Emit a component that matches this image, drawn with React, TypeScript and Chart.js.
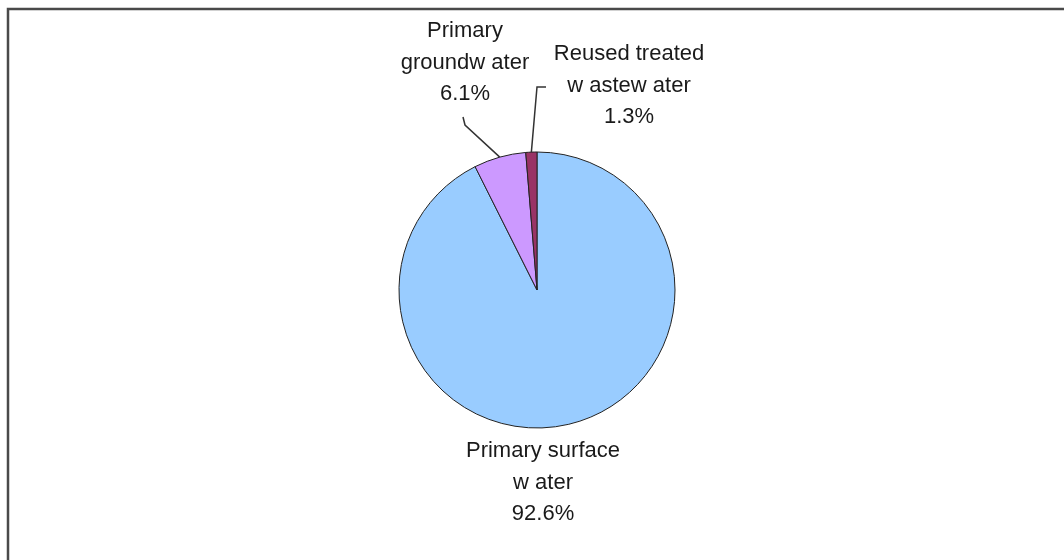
import React, { useEffect, useRef } from "react";
import { Chart, registerables } from "chart.js";

Chart.register(...registerables);

const categories = ["Primary surface water", "Primary groundwater", "Reused treated wastewater"];
const shares = [92.6, 6.1, 1.3];
const labelLines = [
  ["Primary surface", "w ater", "92.6%"],
  ["Primary", "groundw ater", "6.1%"],
  ["Reused treated", "w astew ater", "1.3%"],
];
const sliceColors = ["#99CCFF", "#CC99FF", "#993366"];

const FONT = "22px 'Liberation Sans', Arial, sans-serif";
const LINE_H = 31.5;

// label layout: centre x, first line centre y, and leader path (elbow, end)
const labelLayout = [
  { x: 543, y: 451, leader: null as null | number[][] },
  { x: 465, y: 31, leader: [[465, 125], [463, 117]] },
  { x: 629, y: 54, leader: [[537, 87], [546, 87]] },
];

const labelPlugin = {
  id: "pieLabels",
  afterDraw(chart: any) {
    const ctx = chart.ctx;
    ctx.save();
    // frame
    ctx.strokeStyle = "#4a4a4a";
    ctx.lineWidth = 2.5;
    ctx.beginPath();
    ctx.moveTo(8, 600);
    ctx.lineTo(8, 9);
    ctx.lineTo(1100, 9);
    ctx.stroke();

    const meta = chart.getDatasetMeta(0);
    meta.data.forEach((arc: any, i: number) => {
      const lay = labelLayout[i];
      if (lay.leader) {
        const mid = (arc.startAngle + arc.endAngle) / 2;
        const sx = arc.x + Math.cos(mid) * arc.outerRadius;
        const sy = arc.y + Math.sin(mid) * arc.outerRadius;
        ctx.strokeStyle = "#333";
        ctx.lineWidth = 1.5;
        ctx.beginPath();
        ctx.moveTo(sx, sy);
        lay.leader.forEach((p) => ctx.lineTo(p[0], p[1]));
        ctx.stroke();
      }
      ctx.fillStyle = "#1a1a1a";
      ctx.font = FONT;
      ctx.textAlign = "center";
      ctx.textBaseline = "middle";
      labelLines[i].forEach((t, k) => {
        ctx.fillText(t, lay.x, lay.y + k * LINE_H);
      });
    });
    ctx.restore();
  },
};

export default function App() {
  const ref = useRef<HTMLCanvasElement>(null);
  useEffect(() => {
    document.body.style.margin = "0";
    document.body.style.background = "#fff";
    const chart = new Chart(ref.current!, {
      type: "pie",
      data: {
        labels: categories,
        datasets: [
          {
            data: shares,
            backgroundColor: sliceColors,
            borderColor: "#222",
            borderWidth: 1,
            radius: 138,
          },
        ],
      },
      options: {
        responsive: false,
        animation: false,
        layout: { padding: { left: 10, right: 0, top: 20, bottom: 0 } },
        plugins: {
          legend: { display: false },
          tooltip: { enabled: false },
        },
      },
      plugins: [labelPlugin],
    });
    return () => chart.destroy();
  }, []);
  return <canvas ref={ref} width={1064} height={560} style={{ display: "block" }} />;
}
